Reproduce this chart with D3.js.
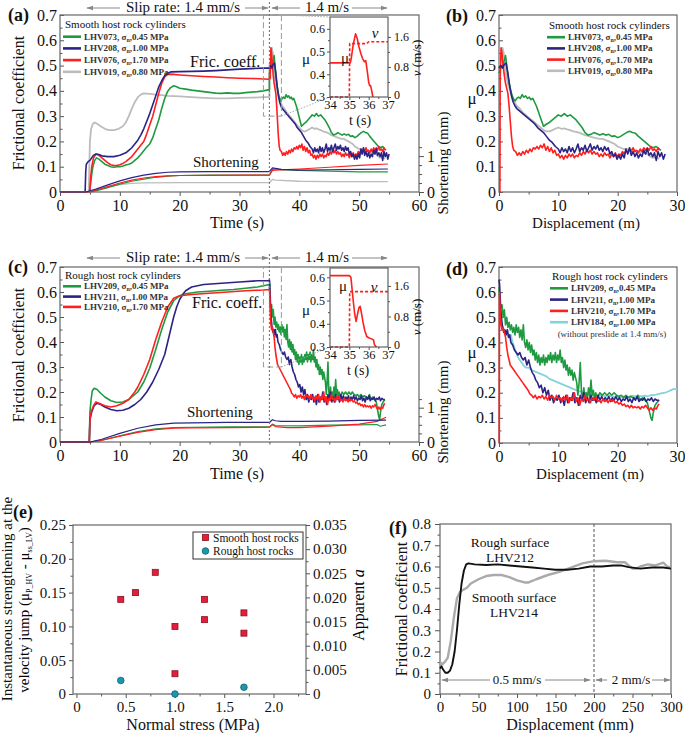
<!DOCTYPE html>
<html><head><meta charset="utf-8">
<script src="https://cdn.jsdelivr.net/npm/d3@7"></script>
<style>body{margin:0;background:#fff}svg{display:block}</style>
</head><body>
<script>
// ---------------- DATA ----------------
// (a) smooth cylinders, low-velocity stage (time s, mu)
const aLowLHV073 = [[0,0],[4.9,0],[5.05,0.02],[5.3,0.07],[5.5,0.1],[5.8,0.125],[6.1,0.135],[6.5,0.13],[7,0.12],[7.5,0.11],[8,0.105],[8.5,0.1],[9,0.098],[9.5,0.1],[10,0.1],[10.5,0.103],[11,0.107],[11.5,0.11],[12,0.115],[12.5,0.125],[13,0.135],[13.5,0.148],[14,0.163],[14.5,0.178],[15,0.19],[15.5,0.215],[16,0.25],[16.5,0.285],[17,0.33],[17.5,0.37],[18,0.398],[18.5,0.413],[19,0.42],[19.5,0.416],[20,0.41],[21,0.407],[22,0.403],[23,0.4],[24,0.397],[25,0.394],[26,0.391],[27,0.39],[28,0.392],[29,0.39],[30,0.39],[31,0.393],[32,0.395],[33,0.397],[34,0.4],[35,0.405]];
const aLowLHV208 = [[0,0],[4.2,0],[4.3,0.08],[4.4,0.11],[4.7,0.12],[5.0,0.125],[5.3,0.135],[5.6,0.145],[6,0.15],[6.5,0.148],[7,0.143],[8,0.14],[9,0.14],[10,0.145],[10.5,0.15],[11,0.155],[11.5,0.165],[12,0.175],[12.5,0.19],[13,0.205],[13.5,0.225],[14,0.25],[14.5,0.28],[15,0.31],[15.5,0.345],[16,0.38],[16.5,0.415],[17,0.44],[17.5,0.46],[18,0.47],[18.5,0.475],[20,0.476],[22,0.477],[24,0.478],[26,0.48],[28,0.483],[30,0.486],[32,0.488],[34,0.49],[35,0.49]];
const aLowLHV076 = [[0,0],[5.0,0],[5.1,0.05],[5.3,0.1],[5.6,0.135],[6,0.15],[6.5,0.145],[7,0.135],[7.5,0.125],[8,0.115],[8.5,0.108],[9,0.105],[9.5,0.105],[10,0.108],[10.5,0.113],[11,0.12],[11.5,0.13],[12,0.14],[12.5,0.155],[13,0.17],[13.5,0.185],[14,0.2],[14.5,0.23],[15,0.265],[15.5,0.3],[16,0.345],[16.5,0.39],[17,0.43],[17.5,0.455],[18,0.465],[18.5,0.466],[19,0.465],[20,0.463],[22,0.46],[24,0.457],[26,0.455],[28,0.452],[30,0.45],[32,0.449],[34,0.447],[35,0.446]];
const aLowLHV019 = [[0,0],[4.8,0],[4.9,0.1],[5.0,0.2],[5.2,0.25],[5.5,0.27],[5.8,0.275],[6.2,0.27],[6.8,0.26],[7.5,0.25],[8.2,0.245],[9,0.245],[9.8,0.25],[10.5,0.26],[11,0.275],[11.5,0.3],[12,0.33],[12.5,0.355],[13,0.375],[13.5,0.385],[14,0.39],[15,0.388],[16,0.385],[17,0.383],[18,0.38],[20,0.378],[22,0.375],[24,0.372],[26,0.37],[28,0.37],[30,0.372],[32,0.373],[34,0.375],[35,0.375]];
// (b) smooth cylinders, high-velocity stage (displacement m, mu)
const bLHV073 = [[0,0.47],[0.3,0.49],[0.6,0.5],[0.9,0.52],[1.1,0.54],[1.3,0.5],[1.5,0.46],[1.8,0.42],[2.1,0.39],[2.4,0.37],[2.7,0.36],[3.0,0.37],[3.3,0.375],[3.6,0.37],[3.9,0.385],[4.2,0.375],[4.5,0.38],[4.8,0.37],[5.1,0.375],[5.4,0.365],[5.7,0.37],[6.0,0.355],[6.3,0.34],[6.6,0.32],[6.9,0.3],[7.2,0.28],[7.5,0.26],[7.8,0.265],[8.1,0.27],[8.5,0.275],[9.0,0.285],[9.5,0.295],[10.0,0.305],[10.5,0.3],[11.0,0.31],[11.5,0.3],[12.0,0.305],[12.5,0.295],[13.0,0.285],[13.5,0.27],[14.0,0.255],[14.5,0.235],[15.0,0.225],[15.5,0.228],[16.0,0.235],[16.5,0.23],[17.0,0.225],[17.5,0.23],[18.0,0.225],[18.5,0.228],[19.0,0.22],[19.5,0.222],[20.0,0.215],[20.5,0.22],[21.0,0.228],[21.5,0.235],[22.0,0.24],[22.5,0.235],[23.0,0.232],[23.5,0.22],[24.0,0.21],[24.5,0.2],[25.0,0.19],[25.5,0.18],[26.0,0.175],[26.5,0.18],[27.0,0.17],[27.3,0.165]];
const bLHV208 = [[0,0.49],[0.3,0.5],[0.6,0.49],[0.9,0.505],[1.2,0.51],[1.5,0.47],[1.8,0.42],[2.1,0.38],[2.4,0.355],[2.7,0.34],[3.0,0.33],[3.5,0.32],[4.0,0.31],[4.5,0.3],[5.0,0.29],[5.5,0.28],[6.0,0.27],[6.5,0.255],[7.0,0.245],[7.5,0.235],[8.0,0.22],[8.5,0.205],[9.0,0.195],[9.5,0.18],[10.0,0.17],[10.3,0.155],[10.6,0.175],[10.9,0.16],[11.2,0.17],[11.5,0.155],[11.8,0.18],[12.1,0.16],[12.4,0.175],[12.7,0.155],[13.0,0.17],[13.3,0.19],[13.6,0.16],[13.9,0.175],[14.2,0.165],[14.5,0.185],[14.8,0.16],[15.1,0.175],[15.4,0.19],[15.7,0.165],[16.0,0.18],[16.3,0.17],[16.6,0.185],[16.9,0.165],[17.2,0.175],[17.5,0.16],[17.8,0.18],[18.1,0.165],[18.4,0.175],[18.7,0.15],[19.0,0.16],[19.3,0.14],[19.6,0.15],[19.9,0.13],[20.2,0.145],[20.5,0.13],[20.8,0.15],[21.1,0.135],[21.4,0.17],[21.7,0.15],[22.0,0.175],[22.3,0.145],[22.6,0.16],[22.9,0.14],[23.2,0.155],[23.5,0.135],[23.8,0.15],[24.1,0.14],[24.4,0.165],[24.7,0.15],[25.0,0.17],[25.3,0.145],[25.6,0.155],[25.9,0.14],[26.2,0.155],[26.5,0.125],[26.8,0.16],[27.1,0.14],[27.4,0.155],[27.7,0.13],[28.0,0.15]];
const bLHV076 = [[0,0],[0.15,0],[0.2,0.45],[0.35,0.57],[0.5,0.55],[0.7,0.5],[0.9,0.46],[1.1,0.43],[1.3,0.41],[1.5,0.39],[1.7,0.34],[1.9,0.28],[2.1,0.22],[2.3,0.18],[2.5,0.165],[2.8,0.16],[3.1,0.145],[3.4,0.155],[3.7,0.145],[4.0,0.16],[4.3,0.15],[4.6,0.165],[4.9,0.155],[5.2,0.17],[5.5,0.16],[5.8,0.175],[6.1,0.17],[6.4,0.18],[6.7,0.17],[7.0,0.185],[7.3,0.175],[7.6,0.19],[7.9,0.165],[8.2,0.18],[8.5,0.16],[8.8,0.175],[9.1,0.155],[9.4,0.165],[9.7,0.145],[10.0,0.15],[10.3,0.135],[10.6,0.145],[10.9,0.13],[11.2,0.145],[11.5,0.135],[11.8,0.15],[12.1,0.14],[12.4,0.15],[12.7,0.135],[13.0,0.145],[13.3,0.14],[13.6,0.155],[13.9,0.145],[14.2,0.16],[14.5,0.15],[14.8,0.165],[15.1,0.155],[15.4,0.165],[15.7,0.15],[16.0,0.16],[16.3,0.15],[16.6,0.155],[16.9,0.14],[17.2,0.15],[17.5,0.14],[17.8,0.155],[18.1,0.145],[18.4,0.15],[18.7,0.135],[19.0,0.15],[19.3,0.14],[19.6,0.155],[19.9,0.14],[20.2,0.15],[20.5,0.145],[20.8,0.16],[21.1,0.15],[21.4,0.165],[21.7,0.155],[22.0,0.17],[22.3,0.16],[22.6,0.175],[22.9,0.16],[23.2,0.165],[23.5,0.155],[23.8,0.17],[24.1,0.16],[24.4,0.175],[24.7,0.165],[25.0,0.175],[25.3,0.165],[25.6,0.18],[25.9,0.165],[26.2,0.17],[26.5,0.16],[26.8,0.175],[27.0,0.165]];
const bLHV019 = [[0,0.5],[0.3,0.52],[0.6,0.57],[0.8,0.55],[1.0,0.5],[1.3,0.45],[1.6,0.42],[2.0,0.39],[2.5,0.36],[3.0,0.34],[3.5,0.33],[4.0,0.315],[4.5,0.305],[5.0,0.295],[5.5,0.285],[6.0,0.275],[6.5,0.265],[7.0,0.255],[7.5,0.245],[8.0,0.24],[8.5,0.24],[9.0,0.245],[9.5,0.25],[10.0,0.255],[10.5,0.25],[11.0,0.252],[11.5,0.248],[12.0,0.245],[12.5,0.24],[13.0,0.238],[13.5,0.235],[14.0,0.23],[14.5,0.225],[15.0,0.222],[15.5,0.218],[16.0,0.215],[16.5,0.212],[17.0,0.21],[17.5,0.21],[18.0,0.205],[18.5,0.2],[19.0,0.195],[19.5,0.19],[20.0,0.18],[20.5,0.175],[21.0,0.17],[21.5,0.17],[22.0,0.168],[22.5,0.17],[23.0,0.165],[23.5,0.16],[24.0,0.158],[24.5,0.155],[25.0,0.15],[25.5,0.14],[26.0,0.135],[26.5,0.14],[27.0,0.13]];
// (a) shortening (time s, mm)
const aShortLHV073 = [[0,0],[5,0],[6,0.03],[8,0.12],[10,0.22],[12,0.3],[14,0.36],[16,0.41],[18,0.44],[20,0.46],[25,0.47],[30,0.47],[35,0.47],[35.5,0.63],[36,0.64],[37,0.62],[40,0.6],[45,0.58],[50,0.56],[54.8,0.56]];
const aShortLHV208 = [[0,0],[4.3,0],[6,0.08],[8,0.2],[10,0.31],[12,0.4],[14,0.47],[16,0.52],[18,0.55],[20,0.56],[25,0.565],[30,0.565],[35,0.565],[35.5,0.67],[36,0.66],[37,0.63],[40,0.61],[45,0.62],[50,0.63],[54.8,0.64]];
const aShortLHV076 = [[0,0],[5,0],[6,0.05],[8,0.15],[10,0.25],[12,0.33],[14,0.39],[16,0.43],[18,0.45],[20,0.46],[25,0.465],[30,0.47],[35,0.47],[35.5,0.6],[36,0.61],[40,0.64],[45,0.69],[50,0.74],[54.8,0.78]];
const aShortLHV019 = [[0,0],[4.9,0],[6,0.06],[8,0.15],[10,0.21],[12,0.24],[14,0.255],[20,0.26],[35,0.26],[35.5,0.35],[36,0.33],[40,0.3],[45,0.29],[50,0.29],[54.8,0.29]];
// (a) inset (time s, mu) and (time s, v m/s)
const aInsetMu = [[34,0.45],[34.5,0.45],[35.05,0.45],[35.1,0.47],[35.2,0.53],[35.32,0.578],[35.4,0.56],[35.5,0.52],[35.6,0.49],[35.68,0.47],[35.78,0.455],[35.85,0.46],[35.9,0.43],[35.95,0.4],[36.0,0.365],[36.05,0.35],[36.1,0.35],[36.15,0.33],[36.22,0.3]];
const aInsetV = [[34,0],[35.0,0],[35.02,1.42],[35.9,1.42],[36.0,1.47],[37,1.47]];
// (c) rough cylinders, low-velocity stage (time s, mu)
const cLowLHV209 = [[0,0],[4.9,0],[5.0,0.12],[5.2,0.17],[5.4,0.205],[5.7,0.215],[6.2,0.21],[6.8,0.195],[7.5,0.18],[8.5,0.165],[9.5,0.158],[10.5,0.16],[11.5,0.17],[12.5,0.19],[13,0.2],[14,0.24],[15,0.295],[16,0.37],[17,0.45],[18,0.52],[19,0.565],[20,0.585],[21,0.593],[23,0.6],[25,0.603],[27,0.607],[29,0.61],[31,0.615],[33,0.62],[35,0.63]];
const cLowLHV211 = [[0,0],[4.9,0],[5.0,0.09],[5.3,0.12],[5.7,0.145],[6.2,0.155],[6.8,0.15],[7.5,0.14],[8.5,0.13],[9.5,0.125],[10.5,0.127],[11.5,0.135],[12.5,0.15],[13.5,0.17],[14.5,0.2],[15.5,0.24],[16.5,0.29],[17,0.32],[17.5,0.35],[18,0.4],[18.5,0.45],[19,0.5],[19.5,0.54],[20,0.57],[20.5,0.59],[21,0.605],[22,0.62],[24,0.63],[27,0.635],[30,0.64],[33,0.645],[35,0.645]];
const cLowLHV210 = [[0,0],[4.9,0],[5.0,0.09],[5.2,0.12],[5.6,0.145],[6,0.16],[6.5,0.155],[7.5,0.145],[8.5,0.14],[9.5,0.145],[10.5,0.155],[11.5,0.17],[12.5,0.2],[13,0.22],[14,0.27],[15,0.33],[16,0.41],[17,0.48],[18,0.54],[19,0.575],[20,0.585],[22,0.59],[25,0.595],[28,0.6],[31,0.605],[34,0.608],[35,0.61]];
// (d) rough cylinders, high-velocity stage (displacement m, mu)
const dLHV209 = [[0,0.62],[0.15,0.56],[0.3,0.54],[0.5,0.55],[0.7,0.5],[0.9,0.53],[1.1,0.47],[1.3,0.5],[1.5,0.46],[1.7,0.48],[1.9,0.45],[2.1,0.47],[2.3,0.44],[2.5,0.46],[2.7,0.43],[2.9,0.47],[3.1,0.44],[3.3,0.46],[3.5,0.42],[3.7,0.45],[3.9,0.41],[4.1,0.47],[4.3,0.4],[4.5,0.38],[4.7,0.41],[4.9,0.37],[5.1,0.4],[5.3,0.36],[5.5,0.39],[5.7,0.35],[5.9,0.37],[6.1,0.33],[6.3,0.36],[6.5,0.32],[6.7,0.35],[6.9,0.31],[7.1,0.34],[7.3,0.32],[7.5,0.35],[7.7,0.31],[7.9,0.34],[8.1,0.32],[8.3,0.35],[8.5,0.33],[8.7,0.36],[8.9,0.32],[9.1,0.35],[9.3,0.33],[9.5,0.36],[9.7,0.32],[9.9,0.35],[10.1,0.33],[10.3,0.37],[10.5,0.32],[10.7,0.34],[10.9,0.3],[11.1,0.33],[11.3,0.29],[11.5,0.31],[11.7,0.27],[11.9,0.3],[12.1,0.27],[12.3,0.29],[12.5,0.25],[12.7,0.28],[12.9,0.26],[13.1,0.24],[13.3,0.19],[13.5,0.24],[13.7,0.32],[13.9,0.2],[14.1,0.18],[14.3,0.22],[14.5,0.17],[14.7,0.2],[14.9,0.18],[15.1,0.22],[15.3,0.18],[15.5,0.25],[15.7,0.19],[15.9,0.21],[16.1,0.17],[16.3,0.2],[16.6,0.18],[17.0,0.2],[17.4,0.19],[17.8,0.2],[18.2,0.19],[18.6,0.2],[19.0,0.19],[19.4,0.2],[19.8,0.19],[20.2,0.185],[20.6,0.19],[21.0,0.18],[21.4,0.19],[21.8,0.18],[22.2,0.185],[22.6,0.18],[23.0,0.175],[23.4,0.19],[23.8,0.17],[24.2,0.18],[24.6,0.17],[25.0,0.16],[25.3,0.13],[25.6,0.1],[25.8,0.09],[26.0,0.12],[26.3,0.15],[26.6,0.16],[27.0,0.17]];
const dLHV211 = [[0,0.65],[0.1,0.63],[0.25,0.55],[0.4,0.5],[0.6,0.46],[0.8,0.44],[1.0,0.45],[1.2,0.43],[1.4,0.45],[1.6,0.42],[1.8,0.43],[2.0,0.4],[2.3,0.39],[2.6,0.37],[2.9,0.36],[3.2,0.35],[3.5,0.36],[3.8,0.34],[4.1,0.33],[4.4,0.34],[4.7,0.31],[5.0,0.33],[5.3,0.3],[5.6,0.28],[5.9,0.27],[6.2,0.25],[6.5,0.24],[6.8,0.22],[7.1,0.23],[7.4,0.2],[7.7,0.22],[8.0,0.19],[8.3,0.21],[8.6,0.17],[8.9,0.19],[9.2,0.16],[9.5,0.18],[9.8,0.17],[10.1,0.19],[10.4,0.16],[10.7,0.18],[11.0,0.15],[11.3,0.19],[11.6,0.16],[11.9,0.18],[12.2,0.17],[12.5,0.2],[12.8,0.16],[13.1,0.18],[13.4,0.15],[13.7,0.19],[14.0,0.17],[14.3,0.2],[14.6,0.16],[14.9,0.18],[15.2,0.16],[15.5,0.19],[15.8,0.17],[16.1,0.18],[16.4,0.16],[16.7,0.19],[17.0,0.17],[17.3,0.185],[17.6,0.17],[17.9,0.18],[18.2,0.17],[18.5,0.185],[18.8,0.165],[19.1,0.18],[19.4,0.17],[19.7,0.185],[20.0,0.17],[20.3,0.18],[20.6,0.165],[20.9,0.175],[21.2,0.17],[21.5,0.185],[21.8,0.165],[22.1,0.175],[22.4,0.16],[22.7,0.18],[23.0,0.17],[23.3,0.185],[23.6,0.165],[23.9,0.175],[24.2,0.17],[24.5,0.18],[24.8,0.165],[25.1,0.175],[25.4,0.17],[25.7,0.18],[26.0,0.165],[26.3,0.175],[26.6,0.17],[27.0,0.17]];
const dLHV210 = [[0,0],[0.05,0],[0.08,0.6],[0.2,0.52],[0.35,0.47],[0.5,0.45],[0.7,0.46],[0.9,0.44],[1.1,0.42],[1.3,0.38],[1.5,0.35],[1.7,0.33],[1.9,0.31],[2.2,0.3],[2.5,0.29],[2.8,0.28],[3.1,0.27],[3.4,0.26],[3.7,0.25],[4.0,0.24],[4.3,0.23],[4.6,0.22],[4.9,0.21],[5.2,0.195],[5.5,0.19],[5.8,0.18],[6.1,0.19],[6.4,0.175],[6.7,0.185],[7.0,0.18],[7.3,0.19],[7.6,0.175],[7.9,0.185],[8.2,0.17],[8.5,0.19],[8.8,0.18],[9.1,0.185],[9.4,0.17],[9.7,0.19],[10.0,0.175],[10.3,0.18],[10.6,0.165],[10.9,0.185],[11.2,0.17],[11.5,0.19],[11.8,0.16],[12.1,0.18],[12.4,0.17],[12.7,0.2],[13.0,0.165],[13.3,0.18],[13.6,0.15],[13.9,0.175],[14.2,0.165],[14.5,0.19],[14.8,0.17],[15.1,0.175],[15.4,0.16],[15.7,0.18],[16.0,0.17],[16.3,0.185],[16.6,0.165],[16.9,0.17],[17.2,0.16],[17.5,0.175],[17.8,0.165],[18.1,0.17],[18.4,0.16],[18.7,0.175],[19.0,0.165],[19.3,0.17],[19.6,0.16],[19.9,0.165],[20.2,0.155],[20.5,0.16],[20.8,0.15],[21.1,0.155],[21.4,0.145],[21.7,0.15],[22.0,0.14],[22.3,0.15],[22.6,0.14],[22.9,0.145],[23.2,0.14],[23.5,0.145],[23.8,0.135],[24.1,0.145],[24.4,0.14],[24.7,0.15],[25.0,0.14],[25.3,0.13],[25.6,0.14],[25.9,0.13],[26.2,0.14],[26.5,0.135],[26.8,0.15],[27.0,0.155]];
const dLHV184 = [[0.2,0.5],[0.5,0.47],[0.8,0.45],[1.1,0.44],[1.4,0.45],[1.7,0.42],[2.0,0.43],[2.3,0.4],[2.6,0.38],[2.9,0.36],[3.2,0.34],[3.5,0.33],[3.8,0.32],[4.1,0.31],[4.5,0.3],[5.0,0.3],[5.5,0.29],[6.0,0.285],[6.5,0.28],[7.0,0.275],[7.5,0.27],[8.0,0.265],[8.5,0.255],[9.0,0.25],[9.5,0.245],[10.0,0.24],[10.5,0.235],[11.0,0.23],[11.5,0.225],[12.0,0.22],[12.5,0.215],[13.0,0.21],[13.5,0.205],[14.0,0.205],[14.5,0.2],[15.0,0.2],[15.5,0.195],[16.0,0.195],[16.5,0.19],[17.0,0.19],[17.5,0.188],[18.0,0.185],[18.5,0.188],[19.0,0.185],[19.5,0.183],[20.0,0.185],[20.5,0.18],[21.0,0.185],[21.5,0.183],[22.0,0.185],[22.5,0.188],[23.0,0.185],[23.5,0.188],[24.0,0.185],[24.5,0.188],[25.0,0.185],[25.5,0.19],[26.0,0.19],[26.5,0.192],[27.0,0.195],[27.5,0.198],[28.0,0.2],[28.5,0.205],[29.0,0.21],[29.5,0.215],[30.0,0.212]];
// (c) shortening (time s, mm)
const cShortLHV209 = [[0,0],[5,0],[7,0.05],[10,0.18],[13,0.3],[16,0.38],[19,0.42],[22,0.43],[28,0.44],[35,0.44],[35.5,0.52],[36,0.48],[40,0.47],[45,0.49],[50,0.5],[53,0.51],[53.5,0.46],[54.5,0.5]];
const cShortLHV211 = [[0,0],[5,0],[7,0.08],[10,0.25],[13,0.4],[16,0.5],[19,0.55],[22,0.56],[28,0.57],[35,0.57],[35.5,0.65],[36,0.62],[37,0.6],[40,0.6],[45,0.61],[50,0.63],[54.5,0.64]];
const cShortLHV210 = [[0,0],[5,0],[7,0.05],[10,0.17],[13,0.28],[16,0.36],[19,0.4],[22,0.41],[28,0.42],[35,0.43],[35.5,0.5],[36,0.45],[38,0.42],[40,0.42],[45,0.46],[50,0.52],[53,0.6],[54.5,0.72]];
// (c) inset
const cInsetMu = [[34,0.607],[35.0,0.607],[35.08,0.6],[35.13,0.56],[35.2,0.5],[35.28,0.44],[35.35,0.41],[35.42,0.44],[35.5,0.47],[35.56,0.475],[35.62,0.45],[35.7,0.41],[35.8,0.37],[35.9,0.345],[36.0,0.34],[36.15,0.335],[36.25,0.33],[36.3,0.31],[36.4,0.3]];
const cInsetV = [[34,0],[35.0,0],[35.02,1.45],[37,1.45]];
// (e) scatter
const eSmoothStress = [0.45,0.6,0.8,1.0,1.0,1.3,1.3,1.7,1.7];
const eSmoothJump = [0.14,0.15,0.18,0.10,0.03,0.14,0.11,0.12,0.09];
const eRoughStress = [0.45,1.0,1.7];
const eRoughJump = [0.02,0.0,0.01];
// (f) displacement mm, mu
const fLHV212 = [[0,0.12],[2,0.13],[4,0.115],[7,0.1],[10,0.1],[13,0.11],[16,0.14],[19,0.2],[22,0.3],[25,0.42],[28,0.52],[31,0.58],[34,0.61],[37,0.615],[45,0.61],[60,0.607],[75,0.61],[90,0.605],[105,0.6],[120,0.595],[135,0.59],[150,0.585],[165,0.585],[180,0.59],[195,0.6],[210,0.6],[225,0.605],[235,0.605],[245,0.597],[260,0.59],[275,0.595],[290,0.595],[300,0.59]];
const fLHV214 = [[0,0.15],[3,0.14],[6,0.15],[10,0.17],[14,0.25],[18,0.36],[22,0.45],[26,0.48],[30,0.49],[35,0.5],[40,0.52],[50,0.54],[60,0.555],[70,0.56],[80,0.56],[90,0.55],[100,0.535],[110,0.525],[115,0.525],[125,0.54],[140,0.56],[155,0.575],[170,0.595],[185,0.615],[200,0.625],[215,0.627],[230,0.62],[240,0.62],[245,0.605],[250,0.59],[255,0.59],[260,0.6],[270,0.61],[280,0.605],[290,0.618],[295,0.6],[300,0.595]];
// legends and ticks
const smoothIds = ["LHV073","LHV208","LHV076","LHV019"];
const smoothStress = ["0.45","1.00","1.70","0.80"];
const roughIds = ["LHV209","LHV211","LHV210","LHV184"];
const roughStress = ["0.45","1.00","1.70","1.00"];
const muTicks = [0,0.1,0.2,0.3,0.4,0.5,0.6,0.7];
const timeTicks = [0,10,20,30,40,50,60];
const dispTicks = [0,10,20,30];
const shortTicks = [0,1];
const eXTicks = [0,0.5,1.0,1.5,2.0];
const eYTicks = [0,0.05,0.10,0.15,0.20,0.25];
const eRTicks = [0,0.005,0.010,0.015,0.020,0.025,0.030,0.035];
const fXTicks = [0,50,100,150,200,250,300];
const fYTicks = [0,0.1,0.2,0.3,0.4,0.5,0.6,0.7,0.8];

// ---------------- DRAWING ----------------
const FONT = "'Liberation Serif','DejaVu Serif',serif";
const C = {green:"#1f9a40", navy:"#2b2485", red:"#ff1f1f", gray:"#bcbcbc", cyan:"#86d2da"};
const svg = d3.select("body").append("svg").attr("width",685).attr("height",733)
  .attr("font-family",FONT);
const defs = svg.append("defs");
defs.append("marker").attr("id","ah").attr("viewBox","0 0 10 10").attr("refX",9).attr("refY",5)
  .attr("markerWidth",7).attr("markerHeight",7).attr("orient","auto-start-reverse")
  .append("path").attr("d","M0,1.5 L10,5 L0,8.5 Z").attr("fill","#888");

const range = (a,b,s)=>{const r=[];for(let v=a;v<=b+1e-9;v+=s)r.push(+v.toFixed(6));return r;};
const f1 = d=>d===0?"0":d.toFixed(1);
const f2 = d=>d===0?"0":d.toFixed(2);
const f3 = d=>d===0?"0":d.toFixed(3);

function panel(L,T,R,B){return {L,T,R,B,w:R-L,h:B-T,g:svg.append("g").attr("transform",`translate(${L},${T})`)};}
function ax(g,gen,tr,fs){
  const a=g.append("g").attr("transform",tr||null).call(gen);
  a.select(".domain").remove();
  a.attr("font-family",FONT);
  a.selectAll("line").attr("stroke","#555").attr("stroke-width",1);
  a.selectAll("text").attr("font-family",FONT).attr("font-size",fs||16).attr("fill","#111");
  return a;
}
function axes(P,x,y,o){
  const g=P.g;
  ax(g,d3.axisBottom(x).tickValues(o.xm).tickFormat("").tickSize(2.5),`translate(0,${P.h})`);
  ax(g,d3.axisBottom(x).tickValues(o.xt).tickFormat(o.xf).tickSize(o.xs||4).tickPadding(o.xp||4),`translate(0,${P.h})`,o.fs);
  ax(g,d3.axisLeft(y).tickValues(o.ym).tickFormat("").tickSize(o.yin?-2.5:2.5));
  ax(g,d3.axisLeft(y).tickValues(o.yt).tickFormat(o.yf).tickSize(o.yin?-4:(o.ys||4)).tickPadding(o.yp||3),null,o.fs);
  g.append("rect").attr("width",P.w).attr("height",P.h).attr("fill","none").attr("stroke","#666").attr("stroke-width",1.2);
}
function curve(P,x,y,data,color,w,dash){
  return P.g.append("path").datum(data).attr("fill","none").attr("stroke",color).attr("stroke-width",w||1.6)
    .attr("stroke-linejoin","round").attr("stroke-dasharray",dash||null)
    .attr("d",d3.line().x(d=>x(d[0])).y(d=>y(d[1])));
}
function text(x,y,s,o){
  o=o||{};
  const t=svg.append("text").attr("x",x).attr("y",y).attr("font-size",o.size||16)
    .attr("text-anchor",o.anchor||"start").attr("fill",o.fill||"#111")
    .attr("font-weight",o.weight||null).attr("font-style",o.style||null);
  if(o.rot) t.attr("transform",`rotate(${o.rot},${x},${y})`);
  t.text(s);
  return t;
}
function arrow(x1,y,x2){
  svg.append("line").attr("x1",x1).attr("y1",y).attr("x2",x2).attr("y2",y)
    .attr("stroke","#888").attr("stroke-width",1).attr("marker-end","url(#ah)");
}
function legend(x0,y0,title,ids,stress,colors,dy){
  text(x0+2,y0,title,{size:11});
  ids.forEach((id,i)=>{
    const y=y0+dy*(i+1);
    svg.append("line").attr("x1",x0).attr("x2",x0+18).attr("y1",y-3).attr("y2",y-3)
      .attr("stroke",colors[i]).attr("stroke-width",2.6);
    const t=svg.append("text").attr("x",x0+21).attr("y",y).attr("font-size",9).attr("font-weight","bold").attr("fill","#333");
    t.append("tspan").text(id+", σ");
    t.append("tspan").attr("font-size",6).attr("dy",2).text("n");
    t.append("tspan").attr("dy",-2).text(","+stress[i]+" MPa");
  });
}
function inset(box,mu,v,muTop,vTop){
  const x=d3.scaleLinear([34,37],[0,box.R-box.L]);
  const ym=d3.scaleLinear([0.3,muTop],[box.B-box.T,0]);
  const yv=d3.scaleLinear([0,vTop],[box.B-box.T,0]);
  const P={g:svg.append("g").attr("transform",`translate(${box.L},${box.T})`),w:box.R-box.L,h:box.B-box.T};
  P.g.append("rect").attr("width",P.w).attr("height",P.h).attr("fill","#fff");
  curve(P,x,ym,mu,C.red,1.6);
  curve(P,x,yv,v,C.red,1.6,"3,2");
  ax(P.g,d3.axisBottom(x).tickValues([34.5,35.5,36.5]).tickFormat("").tickSize(2),`translate(0,${P.h})`);
  ax(P.g,d3.axisBottom(x).tickValues([34,35,36,37]).tickFormat(d3.format("d")).tickSize(3).tickPadding(0),`translate(0,${P.h})`,12.5);
  ax(P.g,d3.axisLeft(ym).tickValues([0.35,0.45,0.55]).tickFormat("").tickSize(2));
  ax(P.g,d3.axisLeft(ym).tickValues([0.3,0.4,0.5,0.6]).tickFormat(f1).tickSize(3).tickPadding(2),null,12);
  ax(P.g,d3.axisRight(yv).tickValues([0.4,1.2]).tickFormat("").tickSize(2),`translate(${P.w},0)`);
  const r=ax(P.g,d3.axisRight(yv).tickValues([0,0.8,1.6]).tickFormat(f1).tickSize(3).tickPadding(3),`translate(${P.w},0)`,12);
  r.selectAll("text").filter(d=>d===0).attr("dy","0.1em");
  P.g.append("rect").attr("width",P.w).attr("height",P.h).attr("fill","none").attr("stroke","#555").attr("stroke-width",1.1);
}
function vLabel(x,y){
  const t=svg.append("text").attr("transform",`translate(${x},${y}) rotate(-90)`).attr("text-anchor","middle").attr("font-size",13);
  t.append("tspan").attr("font-style","italic").text("v"); t.append("tspan").text(" (m/s)");
}
function zoomBox(P,x,y,box){
  P.g.append("rect").attr("x",x(34)).attr("y",y(0.7)).attr("width",x(37)-x(34)).attr("height",y(0.3)-y(0.7))
    .attr("fill","none").attr("stroke","#999").attr("stroke-dasharray","6,3").attr("stroke-width",1);
  const xr=P.L+x(37);
  [[P.T+y(0.7),box.T],[P.T+y(0.3),box.B]].forEach(([y1,y2])=>{
    svg.append("line").attr("x1",xr).attr("y1",y1).attr("x2",box.L).attr("y2",y2)
      .attr("stroke","#aaa").attr("stroke-dasharray","1.5,1.5").attr("stroke-width",1);
  });
}
function vline35(P,x){
  svg.append("line").attr("x1",P.L+x(35)).attr("x2",P.L+x(35)).attr("y1",P.T-13).attr("y2",P.B)
    .attr("stroke","#777").attr("stroke-dasharray","2,2").attr("stroke-width",1.1);
}
function slipArrows(yy){
  arrow(120,yy,87); arrow(245,yy,268);
  text(183,yy+4,"Slip rate: 1.4 mm/s",{size:15,anchor:"middle"});
  arrow(300,yy,272); arrow(352,yy,387);
  text(327,yy+4,"1.4 m/s",{size:15,anchor:"middle"});
}
const hv2t = p=>[35+p[0]/1.4,p[1]];
const joinHV = (low,hv)=>low.concat(hv.filter(p=>p[1]>0).map(hv2t));

// ===== Panel (a) =====
const PA=panel(60,15,419,192);
const xA=d3.scaleLinear([0,60],[0,PA.w]), yA=d3.scaleLinear([0,0.7],[PA.h,0]);
const ySA=d3.scaleLinear([0,4.93],[PA.h,0]);
axes(PA,xA,yA,{xt:timeTicks,xm:range(5,55,10),xf:d3.format("d"),yt:muTicks,ym:range(0.05,0.65,0.1),yf:f1,yin:true});
ax(PA.g,d3.axisRight(ySA).tickValues([0.25,0.5,0.75,1.25]).tickFormat("").tickSize(3),`translate(${PA.w},0)`);
ax(PA.g,d3.axisRight(ySA).tickValues(shortTicks).tickFormat(d3.format("d")).tickSize(5).tickPadding(3),`translate(${PA.w},0)`);
curve(PA,xA,yA,joinHV(aLowLHV019,bLHV019),C.gray,1.8);
curve(PA,xA,yA,joinHV(aLowLHV073,bLHV073),C.green,1.6);
curve(PA,xA,yA,joinHV(aLowLHV076,bLHV076),C.red,1.6);
curve(PA,xA,yA,joinHV(aLowLHV208,bLHV208),C.navy,1.6);
curve(PA,xA,ySA,aShortLHV019,C.gray,1.4);
curve(PA,xA,ySA,aShortLHV073,C.green,1.2);
curve(PA,xA,ySA,aShortLHV076,C.red,1.2);
curve(PA,xA,ySA,aShortLHV208,C.navy,1.2);
const boxA={L:330,T:17,R:388,B:97};
zoomBox(PA,xA,yA,boxA);
vline35(PA,xA);
inset(boxA,aInsetMu,aInsetV,0.652,2.13);
text(306,64,"μ",{size:15,anchor:"middle"});
text(345,63,"μ",{size:15,anchor:"middle"});
text(375,38,"v",{size:15,anchor:"middle",style:"italic"});
text(360,125,"t (s)",{size:14,anchor:"middle"});
vLabel(421,58);
legend(63,28,"Smooth host rock cylinders",smoothIds,smoothStress,[C.green,C.navy,C.red,C.gray],11.7);
text(190,67,"Fric. coeff.",{size:16});
text(193,167,"Shortening",{size:15});
slipArrows(8);
text(8,21,"(a)",{size:18,weight:"bold"});
text(24,103,"Frictional  coefficient",{size:16,anchor:"middle",rot:-90});
text(237,228,"Time (s)",{size:16,anchor:"middle"});
text(448,163,"Shortening (mm)",{size:15,anchor:"middle",rot:-90});

// ===== Panel (b) =====
const PB=panel(499,15,677,192);
const xB=d3.scaleLinear([0,30],[0,PB.w]), yB=d3.scaleLinear([0,0.7],[PB.h,0]);
axes(PB,xB,yB,{xt:dispTicks,xm:range(5,25,10),xf:d3.format("d"),yt:muTicks,ym:range(0.05,0.65,0.1),yf:f1,yin:true});
curve(PB,xB,yB,bLHV019,C.gray,1.8);
curve(PB,xB,yB,bLHV073,C.green,1.6);
curve(PB,xB,yB,bLHV076,C.red,1.6);
curve(PB,xB,yB,bLHV208,C.navy,1.6);
legend(547,29,"Smooth host rock cylinders",smoothIds,smoothStress,[C.green,C.navy,C.red,C.gray],11.2);
text(446,22,"(b)",{size:18,weight:"bold"});
text(472,104,"μ",{size:17,anchor:"middle"});
text(586,228,"Displacement (m)",{size:15,anchor:"middle"});

// ===== Panel (c) =====
const PC=panel(60,267,419,442);
const xC=d3.scaleLinear([0,60],[0,PC.w]), yC=d3.scaleLinear([0,0.7],[PC.h,0]);
const ySC=d3.scaleLinear([0,5.1],[PC.h,0]);
axes(PC,xC,yC,{xt:timeTicks,xm:range(5,55,10),xf:d3.format("d"),yt:muTicks,ym:range(0.05,0.65,0.1),yf:f1,yin:true});
ax(PC.g,d3.axisRight(ySC).tickValues([0.25,0.5,0.75,1.25]).tickFormat("").tickSize(3),`translate(${PC.w},0)`);
ax(PC.g,d3.axisRight(ySC).tickValues(shortTicks).tickFormat(d3.format("d")).tickSize(5).tickPadding(3),`translate(${PC.w},0)`);
curve(PC,xC,yC,joinHV(cLowLHV209,dLHV209),C.green,1.6);
curve(PC,xC,yC,joinHV(cLowLHV211,dLHV211),C.navy,1.6);
curve(PC,xC,yC,joinHV(cLowLHV210,dLHV210),C.red,1.6);
curve(PC,xC,ySC,cShortLHV209,C.green,1.2);
curve(PC,xC,ySC,cShortLHV210,C.red,1.2);
curve(PC,xC,ySC,cShortLHV211,C.navy,1.2);
const boxC={L:330,T:268,R:388,B:347};
zoomBox(PC,xC,yC,boxC);
vline35(PC,xC);
inset(boxC,cInsetMu,cInsetV,0.64,2.07);
text(306,315,"μ",{size:15,anchor:"middle"});
text(343,291,"μ",{size:15,anchor:"middle"});
text(374,292,"v",{size:15,anchor:"middle",style:"italic"});
text(358,375,"t (s)",{size:14,anchor:"middle"});
vLabel(421,317);
legend(63,279,"Rough host rock cylinders",roughIds.slice(0,3),roughStress,[C.green,C.navy,C.red],10.3);
text(192,308,"Fric. coeff.",{size:16});
text(187,417,"Shortening",{size:15});
slipArrows(258);
text(8,273,"(c)",{size:18,weight:"bold"});
text(24,355,"Frictional  coefficient",{size:16,anchor:"middle",rot:-90});
text(237,479,"Time (s)",{size:16,anchor:"middle"});
text(448,412,"Shortening (mm)",{size:15,anchor:"middle",rot:-90});

// ===== Panel (d) =====
const PD=panel(499,267,677,443);
const xD=d3.scaleLinear([0,30],[0,PD.w]), yD=d3.scaleLinear([0,0.7],[PD.h,0]);
axes(PD,xD,yD,{xt:dispTicks,xm:range(5,25,10),xf:d3.format("d"),yt:muTicks,ym:range(0.05,0.65,0.1),yf:f1,yin:true});
curve(PD,xD,yD,dLHV184,C.cyan,1.8);
curve(PD,xD,yD,dLHV209,C.green,1.6);
curve(PD,xD,yD,dLHV211,C.navy,1.6);
curve(PD,xD,yD,dLHV210,C.red,1.6);
legend(550,280,"Rough host rock cylinders",roughIds,roughStress,[C.green,C.navy,C.red,C.cyan],11.3);
text(612,336.5,"(without preslide at 1.4 mm/s)",{size:9,anchor:"middle",fill:"#333"});
text(446,275,"(d)",{size:18,weight:"bold"});
text(472,358,"μ",{size:17,anchor:"middle"});
text(590,479,"Displacement (m)",{size:15,anchor:"middle"});

// ===== Panel (e) =====
const PE=panel(73,525,306,694);
const xE=d3.scaleLinear([-0.035,2.33],[0,PE.w]), yE=d3.scaleLinear([0,0.25],[PE.h,0]);
const yER=d3.scaleLinear([0,0.035],[PE.h,0]);
axes(PE,xE,yE,{xt:eXTicks,xm:[0.25,0.75,1.25,1.75,2.25],xf:f1,yt:eYTicks,ym:range(0.025,0.225,0.05),yf:f2,xp:3,fs:15});
ax(PE.g,d3.axisRight(yER).tickValues(range(0.0025,0.0325,0.005)).tickFormat("").tickSize(2.5),`translate(${PE.w},0)`);
ax(PE.g,d3.axisRight(yER).tickValues(eRTicks).tickFormat(f3).tickSize(4).tickPadding(3),`translate(${PE.w},0)`,15);
PE.g.selectAll(".sq").data(eSmoothStress).enter().append("rect")
  .attr("x",(d)=>xE(d)-3).attr("y",(d,i)=>yE(eSmoothJump[i])-3).attr("width",6).attr("height",6)
  .attr("fill","#e41e3a").attr("stroke","#8a1020").attr("stroke-width",0.8);
PE.g.selectAll(".ci").data(eRoughStress).enter().append("circle")
  .attr("cx",d=>xE(d)).attr("cy",(d,i)=>yE(eRoughJump[i])).attr("r",3.3)
  .attr("fill","#1a98ad").attr("stroke","#0f5f6c").attr("stroke-width",0.8);
svg.append("rect").attr("x",193).attr("y",532).attr("width",110).attr("height",27).attr("fill","#fff").attr("stroke","#333").attr("stroke-width",1);
svg.append("rect").attr("x",202.5).attr("y",534.5).attr("width",6).attr("height",6).attr("fill","#e41e3a").attr("stroke","#8a1020").attr("stroke-width",0.8);
svg.append("circle").attr("cx",205.5).attr("cy",551).attr("r",3.3).attr("fill","#1a98ad").attr("stroke","#0f5f6c").attr("stroke-width",0.8);
text(213,541.5,"Smooth host rocks",{size:11.5});
text(213,555,"Rough host rocks",{size:11.5});
text(13,518,"(e)",{size:18,weight:"bold"});
text(12,599,"Instantaneous strengthening at the",{size:15,anchor:"middle",rot:-90});
{const t=svg.append("text").attr("transform","translate(29,610) rotate(-90)").attr("text-anchor","middle").attr("font-size",15);
 t.append("tspan").text("velocity jump (μ");
 t.append("tspan").attr("font-size",8).attr("dy",3).text("P_HV");
 t.append("tspan").attr("dy",-3).text(" - μ");
 t.append("tspan").attr("font-size",8).attr("dy",3).text("ss_LV");
 t.append("tspan").attr("dy",-3).text(")");}
text(193,729.5,"Normal stress (MPa)",{size:16,anchor:"middle"});
{const t=svg.append("text").attr("transform","translate(364,605) rotate(-90)").attr("text-anchor","middle").attr("font-size",16);
 t.append("tspan").text("Apparent "); t.append("tspan").attr("font-style","italic").text("a");}

// ===== Panel (f) =====
const PF=panel(440,524,671,694);
const xF=d3.scaleLinear([0,300],[0,PF.w]), yF=d3.scaleLinear([0,0.8],[PF.h,0]);
axes(PF,xF,yF,{xt:fXTicks,xm:range(25,275,50),xf:d3.format("d"),yt:fYTicks,ym:range(0.05,0.75,0.1),yf:f1,xp:3,yp:4,ys:5,fs:15});
PF.g.append("line").attr("x1",xF(200)).attr("x2",xF(200)).attr("y1",0).attr("y2",PF.h)
  .attr("stroke","#555").attr("stroke-dasharray","3,2").attr("stroke-width",1);
curve(PF,xF,yF,fLHV214,"#aaaaaa",2.4);
curve(PF,xF,yF,fLHV212,"#111",1.9);
arrow(490,680,442); arrow(545,680,590);
text(517,684,"0.5 mm/s",{size:13,anchor:"middle"});
arrow(607,680,596); arrow(652,680,670);
text(631,684,"2 mm/s",{size:13,anchor:"middle"});
text(510,547,"Rough surface",{size:13.5,anchor:"middle"});
text(510,562,"LHV212",{size:13.5,anchor:"middle"});
text(514,602,"Smooth surface",{size:13.5,anchor:"middle"});
text(514,617,"LHV214",{size:13.5,anchor:"middle"});
text(389,534,"(f)",{size:18,weight:"bold"});
text(407,609,"Frictional  coefficient",{size:16,anchor:"middle",rot:-90});
text(570,729.5,"Displacement (mm)",{size:16,anchor:"middle"});
</script>
</body></html>
